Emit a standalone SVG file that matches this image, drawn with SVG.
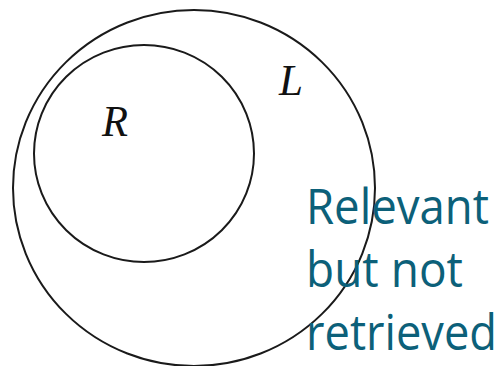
<svg xmlns="http://www.w3.org/2000/svg" width="502" height="366" viewBox="0 0 502 366">
<style>
.c{fill:none;stroke:#1a1a1a;stroke-width:2}
.m{font-family:"Liberation Serif","Times New Roman",serif;font-style:italic;font-size:44px;fill:#111}
.b{font-family:"Open Sans","Noto Sans",sans-serif;font-size:49px;font-weight:500;fill:#0c6079}
</style>
<rect width="502" height="366" fill="#fff"/>
<g id="L">
<ellipse class="c" cx="194" cy="188" rx="181" ry="178"/>
<text class="m" x="279" y="95" textLength="24" lengthAdjust="spacingAndGlyphs">L</text>
</g>
<g id="R">
<ellipse class="c" cx="144" cy="153.5" rx="110" ry="108.5"/>
<text class="m" x="102" y="136" textLength="26" lengthAdjust="spacingAndGlyphs">R</text>
</g>
<g id="label">
<text class="b" x="306" y="224" textLength="183" lengthAdjust="spacingAndGlyphs">Relevant</text>
<text class="b" x="306" y="287" textLength="157" lengthAdjust="spacingAndGlyphs">but not</text>
<text class="b" x="306" y="350" textLength="191" lengthAdjust="spacingAndGlyphs">retrieved</text>
</g>
</svg>
